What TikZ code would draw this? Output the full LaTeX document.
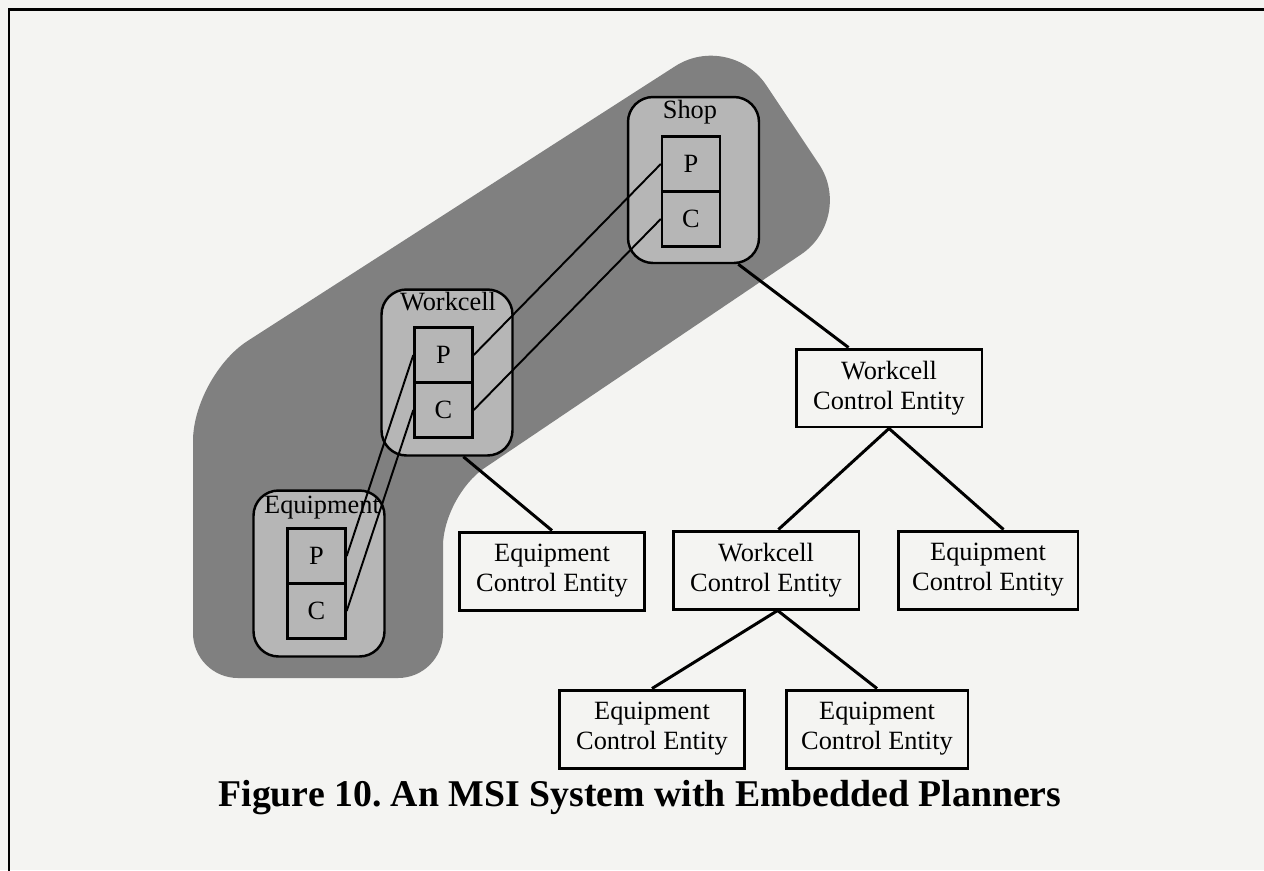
\documentclass[tikz,border=0pt]{standalone}
\usepackage{fontspec}
\setmainfont{Liberation Serif}
\usetikzlibrary{positioning}
\definecolor{paper}{RGB}{244,244,242}
\definecolor{planshade}{RGB}{128,128,128}
\definecolor{boxshade}{RGB}{182,182,182}
\tikzset{
	entity/.style={draw, line width=1.7pt, fill=paper, minimum width=3.72cm, minimum height=1.56cm, inner sep=0pt, align=center, font=\fontsize{15}{17}\selectfont},
	level/.style={draw, line width=1.4pt, rounded corners=0.5cm, fill=boxshade, minimum width=2.62cm, minimum height=3.32cm, inner sep=0pt},
	half/.style={draw, line width=1.4pt, fill=boxshade, minimum width=1.16cm, minimum height=1.1cm, inner sep=0pt, font=\fontsize{15}{17}\selectfont},
	tag/.style={anchor=base, inner sep=0pt, font=\fontsize{15}{17}\selectfont},
	link/.style={line width=1.1pt},
	tree/.style={line width=1.7pt}
}
\begin{document}
\begin{tikzpicture}[x=0.02cm, y=-0.02cm]
	\useasboundingbox (0,0) rectangle (1264,870);
	\fill [paper] (0,0) rectangle (1264,870);
	\draw [line width=1.7pt] (9,875) -- (9,9) -- (1270,9);

	% shaded planner region
	\fill [planshade] (318,678) [rounded corners=0.9cm] -- (193,678)
		[rounded corners=1.3cm] -- (193,376) -- (730,31) -- (855,218)
		[rounded corners=1cm] -- (443,496)
		[rounded corners=0.9cm] -- (443,678) -- cycle;

	\node [level] (shop) at (693.5,180) {};
	\node [level] (wcell) at (447,372.5) {};
	\node [level] (equip) at (319,573.5) {};

	\node [tag] (shoptag) at (690,118) {Shop};
	\node [tag] (wcelltag) at (448,310) {Workcell};
	\node [tag] (equiptag) at (322,513) {Equipment};

	\node [half] (sp) at (691,164) {P};
	\node [half, below=-1.4pt of sp] (sc) {C};
	\node [half] (wp) at (443.5,355) {P};
	\node [half, below=-1.4pt of wp] (wc) {C};
	\node [half] (ep) at (316.5,556) {P};
	\node [half, below=-1.4pt of ep] (ec) {C};

	\draw [link] (wp.east) -- (sp.west);
	\draw [link] (wc.east) -- (sc.west);
	\draw [link] (ep.east) -- (wp.west);
	\draw [link] (ec.east) -- (wc.west);

	\node [entity] (wce1) at (889,388) {Workcell\\Control Entity};
	\node [entity] (ece1) at (552,571) {Equipment\\Control Entity};
	\node [entity] (wce2) at (766,570) {Workcell\\Control Entity};
	\node [entity, minimum width=3.6cm] (ece2) at (988,570) {Equipment\\Control Entity};
	\node [entity] (ece3) at (652,729) {Equipment\\Control Entity};
	\node [entity, minimum width=3.64cm] (ece4) at (877,729) {Equipment\\Control Entity};

	\draw [tree] (shop.-62) -- (wce1.135);
	\draw [tree] (wcell.-79) -- (ece1.north);
	\draw [tree] (wce1.south) -- (wce2.73);
	\draw [tree] (wce1.south) -- (ece2.69);
	\draw [tree] (wce2.-74) -- (ece3.north);
	\draw [tree] (wce2.-74) -- (ece4.north);

	\node [anchor=base, font=\fontsize{21.5}{24}\selectfont\bfseries] (caption) at (640,806) {Figure 10.\ An MSI System with Embedded Planners};
\end{tikzpicture}
\end{document}
